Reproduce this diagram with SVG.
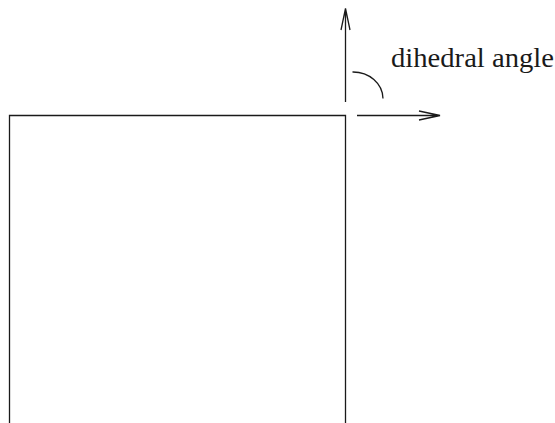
<svg xmlns="http://www.w3.org/2000/svg" width="555" height="423" viewBox="0 0 555 423">
<style>
.ln{fill:none;stroke:#1a1a1a;stroke-width:1.3}
.lbl{font-family:"Liberation Serif","Times New Roman",serif;font-size:27px;fill:#1a1a1a}
</style>
<rect width="555" height="423" fill="#fff"/>
<g id="box"><path class="ln" d="M9.5,423 V115.5 H345.5 V423"/></g>
<g id="connectors">
<path class="ln" d="M345.5,102 V8.5 M341,30 L345.5,8.5 L350,30"/>
<path class="ln" d="M357,115.5 H440 M419,111 L440,115.5 L419,120"/>
<path class="ln" d="M352.5,72 A30,27 0 0 1 383,98.5"/>
</g>
<g id="label"><text class="lbl" x="391" y="67" textLength="163" lengthAdjust="spacingAndGlyphs">dihedral angle</text></g>
</svg>
